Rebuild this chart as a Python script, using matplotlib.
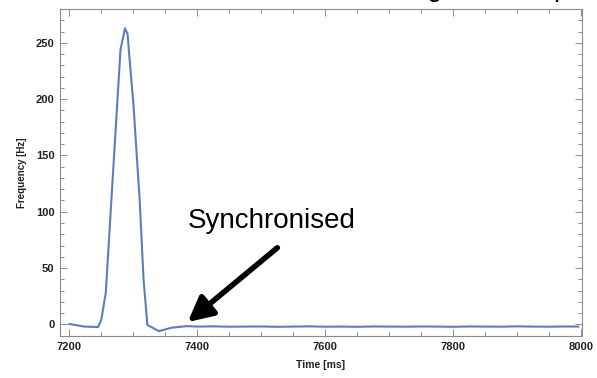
import matplotlib
matplotlib.use('Agg')
import matplotlib.pyplot as plt
from matplotlib.ticker import MultipleLocator

plt.rcParams['font.family'] = ['Liberation Sans', 'DejaVu Sans']

# frequency trace
time_ms = [7200, 7224, 7245, 7250, 7257, 7280, 7287, 7291, 7295, 7300, 7310,
           7316, 7322, 7340, 7360, 7383, 7400, 7425, 7450, 7475, 7500, 7525,
           7550, 7575, 7600, 7625, 7650, 7675, 7700, 7725, 7750, 7775, 7800,
           7825, 7850, 7875, 7900, 7925, 7950, 7975, 7995]
freq_hz = [0.3, -2.0, -2.4, 4.0, 28.0, 244.0, 263.0, 258.0, 230.0, 197.0, 110.0,
           40.0, -0.6, -6.0, -3.0, -1.6, -2.0, -1.8, -2.1, -2.0, -1.9, -2.2,
           -2.0, -1.8, -2.1, -2.0, -2.2, -1.9, -2.0, -2.1, -1.9, -2.0, -2.2,
           -1.9, -2.0, -2.1, -1.8, -2.0, -2.1, -1.9, -2.0]

label_text = 'Synchronised'
label_pos = (7385, 86)
arrow_tip = (7385, 2)
arrow_tail = (7525, 68)

fig = plt.figure(figsize=(5.97, 3.78), dpi=100)
ax = fig.add_axes([0.1005, 0.111, 0.8745, 0.865])

ax.plot(time_ms, freq_hz, color='#5b7fbd', linewidth=1.5)

ax.set_xlim(7185.5, 8001)
ax.set_ylim(-10.4, 280)

ax.xaxis.set_major_locator(MultipleLocator(200))
ax.xaxis.set_minor_locator(MultipleLocator(50))
ax.yaxis.set_major_locator(MultipleLocator(50))
ax.yaxis.set_minor_locator(MultipleLocator(10))

frame_color = '#8c8c8c'
for spine in ax.spines.values():
    spine.set_color(frame_color)
    spine.set_linewidth(0.8)
ax.tick_params(which='both', direction='in', top=True, right=True,
               color=frame_color, width=0.7)
ax.tick_params(which='major', length=5, labelsize=8, labelcolor='#222222', pad=4)
ax.tick_params(which='minor', length=3)
for lab in ax.get_xticklabels() + ax.get_yticklabels():
    lab.set_fontweight('bold')

ax.set_xlabel('Time [ms]', fontsize=7.5, fontweight='bold', color='#222222', labelpad=6)
ax.set_ylabel('Frequency [Hz]', fontsize=7, fontweight='bold', color='#222222', labelpad=6)

ax.text(label_pos[0], label_pos[1], label_text, fontsize=20, color='black',
        ha='left', va='baseline')
ax.annotate('', xy=arrow_tip, xytext=arrow_tail,
            arrowprops=dict(arrowstyle='-|>,head_length=0.75,head_width=0.38',
                            lw=4, color='black', mutation_scale=20,
                            shrinkA=0, shrinkB=0))

# descenders of the cropped slide title
fig.text(427 / 597, 1 + 4 / 378, 'g', fontsize=20, ha='left', va='baseline')
fig.text(553 / 597, 1 + 4 / 378, 'p', fontsize=20, ha='left', va='baseline')

fig.savefig('out.png', dpi=100)
